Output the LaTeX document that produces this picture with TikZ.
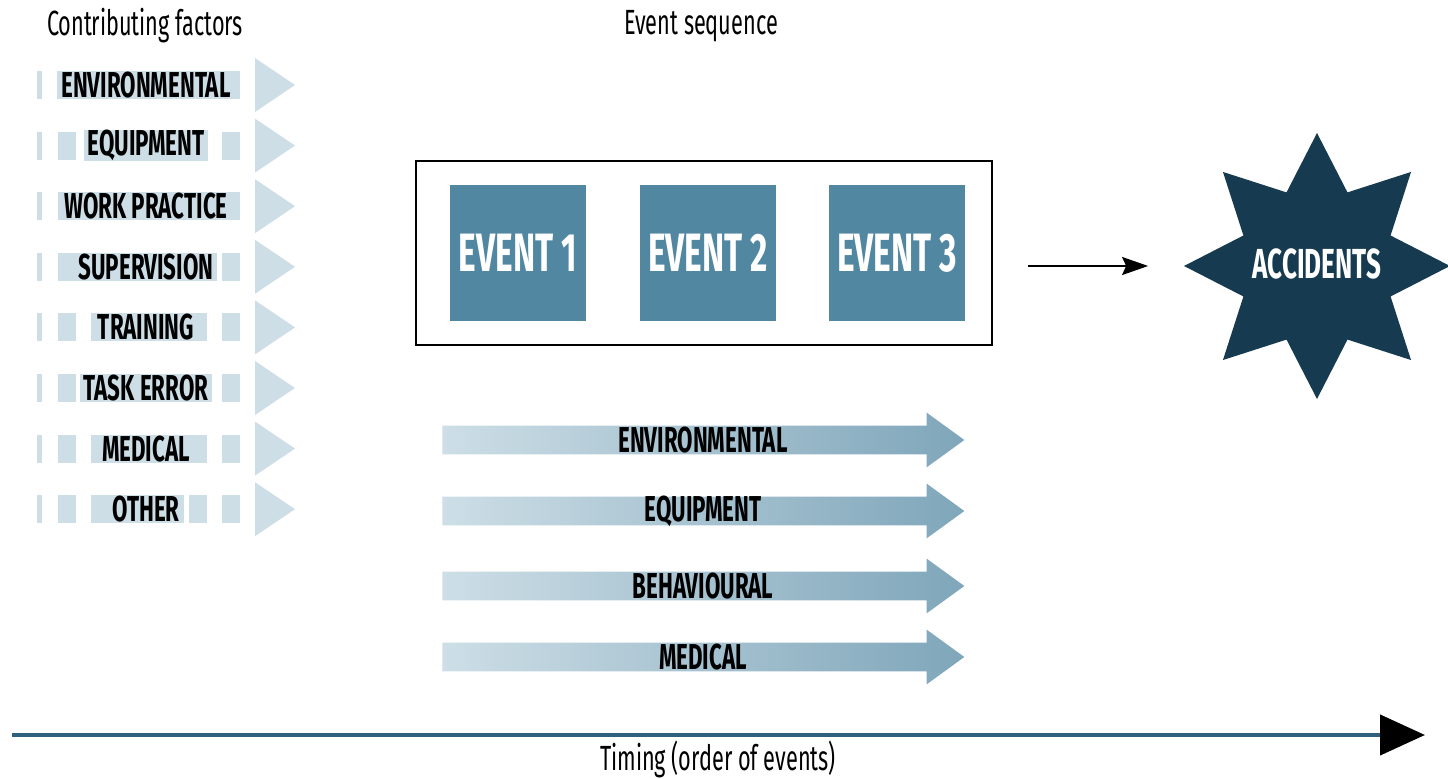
\documentclass[tikz,border=0pt]{standalone}
\usepackage{fontspec}
\newfontfamily\condfont[FakeStretch=0.62]{Fira Sans}
\usetikzlibrary{shapes.geometric,shapes.arrows,arrows.meta}
\definecolor{factor}{RGB}{205,222,230}
\definecolor{eventblue}{RGB}{82,135,162}
\definecolor{stardark}{RGB}{22,58,79}
\definecolor{shaftdark}{RGB}{127,166,186}
\definecolor{axisblue}{RGB}{47,96,125}
\begin{document}
\begin{tikzpicture}[x=0.5pt,y=-0.5pt]

\tikzset{line/.style={draw,thick}}
\tikzset{arrow/.style={line,line width=1pt,-{Stealth[length=13pt,width=9pt,inset=2pt]}}}
\tikzset{title/.style={font=\condfont\fontsize{17.5}{17.5}\selectfont}}
\tikzset{label/.style={font=\condfont\bfseries\fontsize{18}{18}\selectfont,text=black}}
\tikzset{factor label/.style={label,fill=factor,inner xsep=2pt,inner ysep=0pt,minimum height=14pt}}
\tikzset{event/.style={fill=eventblue,minimum size=68pt,inner sep=0pt,text=white,font=\condfont\bfseries\fontsize{27}{27}\selectfont}}
\tikzset{factor arrow/.style={single arrow,single arrow tip angle=72,single arrow head extend=6.5pt,
  minimum height=261pt,text height=11.5pt,text depth=0pt,inner xsep=0pt,inner ysep=1.25pt,left color=factor,right color=shaftdark}}

\useasboundingbox (0,0) rectangle (1448,779);

\node[title] (cf) at (145,26) {Contributing factors};
\node[title] (es) at (701,26) {Event sequence};

\foreach \lab [count=\i] in {ENVIRONMENTAL,EQUIPMENT,WORK PRACTICE,SUPERVISION,TRAINING,TASK ERROR,MEDICAL,OTHER} {
  \pgfmathsetmacro\y{85+60.6*(\i-1)}
  \fill[factor] (37,\y-14) rectangle (42,\y+14);
  \foreach \k in {0,...,5} \fill[factor] (58+32.8*\k,\y-14) rectangle ++(17.5,28);
  \node[factor label] (f\i) at (146,\y) {\lab};
  \fill[factor] (255,\y-27) -- (295,\y) -- (255,\y+27) -- cycle;
}

\node[draw,line width=1pt,minimum width=288pt,minimum height=92pt] (seq) at (704,253) {};
\node[event] (e1) at (518,253) {EVENT 1};
\node[event] (e2) at (708,253) {EVENT 2};
\node[event] (e3) at (897,253) {EVENT 3};

\node[star,star points=8,star point ratio=1.67,minimum size=133pt,inner sep=0pt,fill=stardark] (acc) at (1317,266) {};
\node[text=white,font=\condfont\bfseries\fontsize{21}{21}\selectfont] (acct) at (1317,264) {ACCIDENTS};

\path[arrow] ([xshift=17.5pt]seq.east |- acc.west) to ([xshift=-17.5pt]acc.west);

\foreach \lab [count=\i] in {ENVIRONMENTAL,EQUIPMENT,BEHAVIOURAL,MEDICAL} {
  \pgfmathsetmacro\y{{440,511,586,657}[\i-1]}
  \node[factor arrow,anchor=tip] (b\i) at (965,\y) {};
  \node[label] (b\i t) at (703,\y) {\lab};
}

\coordinate (t0) at (12,735);
\coordinate (t1) at (1425,735);
\draw[axisblue,line width=2.2pt,-{Triangle[length=22.5pt,width=20pt,color=black]}] (t0) -- (t1);
\node[title] (tm) at (718,759) {Timing (order of events)};

\end{tikzpicture}
\end{document}
